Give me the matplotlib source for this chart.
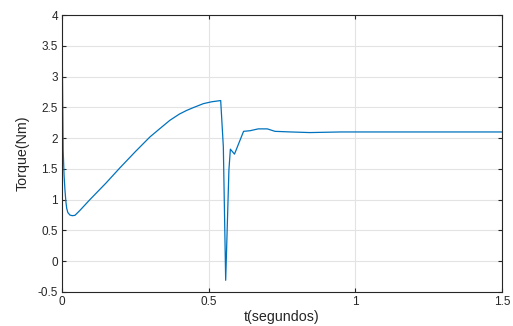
import matplotlib
matplotlib.use("Agg")
import matplotlib.pyplot as plt

# Electromagnetic torque response over time
t_seg = [0.0, 0.002, 0.004, 0.007, 0.010, 0.013, 0.016, 0.020, 0.027, 0.035, 0.044,
         0.060, 0.095, 0.150, 0.198, 0.250, 0.300, 0.330, 0.368, 0.400, 0.425,
         0.450, 0.482, 0.510, 0.541, 0.550, 0.558, 0.563, 0.569, 0.574, 0.588,
         0.619, 0.641, 0.669, 0.700, 0.726, 0.780, 0.845, 0.950, 1.100, 1.300, 1.500]
torque_nm = [3.80, 2.80, 1.80, 1.40, 1.16, 0.98, 0.86, 0.79, 0.75, 0.74, 0.745,
             0.82, 1.00, 1.27, 1.52, 1.78, 2.02, 2.14, 2.29, 2.39, 2.45,
             2.50, 2.56, 2.59, 2.61, 1.86, -0.31, 0.50, 1.48, 1.82, 1.74,
             2.11, 2.12, 2.15, 2.15, 2.11, 2.10, 2.09, 2.10, 2.10, 2.10, 2.10]

x_ticks = [0, 0.5, 1, 1.5]
x_tick_labels = ["0", "0.5", "1", "1.5"]
y_ticks = [-0.5, 0, 0.5, 1, 1.5, 2, 2.5, 3, 3.5, 4]
y_tick_labels = ["-0.5", "0", "0.5", "1", "1.5", "2", "2.5", "3", "3.5", "4"]

plt.rcParams["font.family"] = ["Liberation Sans", "DejaVu Sans"]

fig = plt.figure(figsize=(5.13, 3.26), dpi=100)
ax = fig.add_axes([62 / 513, 34 / 326, 440 / 513, 277 / 326])

ax.plot(t_seg, torque_nm, color="#0072BD", linewidth=0.9)

ax.set_xlim(0, 1.5)
ax.set_ylim(-0.5, 4)
ax.set_xticks(x_ticks)
ax.set_xticklabels(x_tick_labels)
ax.set_yticks(y_ticks)
ax.set_yticklabels(y_tick_labels)

ax.grid(True, color="#e3e3e3", linewidth=0.8)
ax.set_axisbelow(True)
for side in ax.spines.values():
    side.set_color("#262626")
    side.set_linewidth(0.8)

ax.tick_params(direction="in", top=True, right=True, length=3,
               width=0.8, color="#262626", labelsize=8.5, labelcolor="#262626",
               pad=3)
ax.set_xlabel("t(segundos)", fontsize=10.3, color="#262626", labelpad=1)
ax.set_ylabel("Torque(Nm)", fontsize=10.3, color="#262626", labelpad=6)

fig.savefig("out.png", dpi=100)
